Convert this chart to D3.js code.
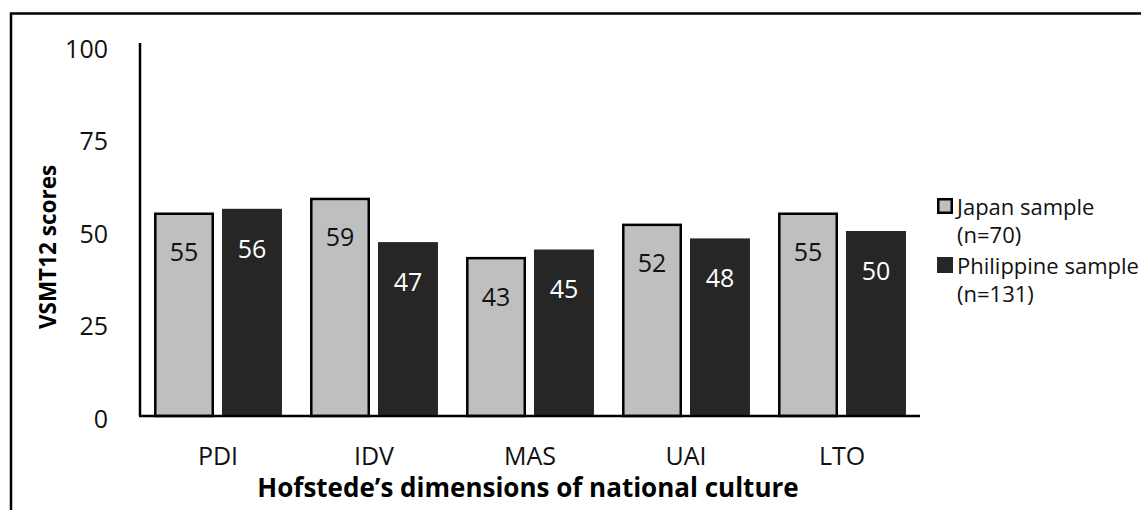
<!DOCTYPE html>
<html>
<head>
<meta charset="utf-8">
<script src="https://cdn.jsdelivr.net/npm/d3@7"></script>
<style>
  html, body { margin: 0; padding: 0; background: #fff; }
  svg { display: block; }
  text { font-family: "Open Sans", "Noto Sans", sans-serif; }
</style>
</head>
<body>
<svg id="chart" width="1141" height="510"></svg>
<script>
// Hofstede dimension scores (VSMT12) for the two samples
const categories = ["PDI", "IDV", "MAS", "UAI", "LTO"];
const seriesNames = ["Japan sample", "Philippine sample"];
const seriesCounts = ["(n=70)", "(n=131)"];
const japanScores = [55, 59, 43, 52, 55];
const philippineScores = [56, 47, 45, 48, 50];
const yTicks = [0, 25, 50, 75, 100];

const seriesValues = [japanScores, philippineScores];
const fills = ["#bfbfbf", "#262626"];
const labelColors = ["#111", "#fff"];

const svg = d3.select("#chart");
const W = 1141, H = 510;

svg.append("rect").attr("width", W).attr("height", H).attr("fill", "#fff");

// outer frame (top and left edges)
svg.append("path")
  .attr("d", "M11,510 V13.5 H1141")
  .attr("fill", "none")
  .attr("stroke", "#000")
  .attr("stroke-width", 2.5);

const x0 = d3.scaleBand().domain(categories).range([140, 920])
  .paddingInner(0.18).paddingOuter(0.09);
const x1 = d3.scaleBand().domain(d3.range(seriesNames.length))
  .range([0, x0.bandwidth()]).paddingInner(8 / 68);
const y = d3.scaleLinear().domain([0, 100]).range([416, 46]);

// bars
const groups = svg.append("g").selectAll("g")
  .data(categories)
  .join("g")
  .attr("transform", d => `translate(${x0(d)},0)`);

groups.selectAll("rect")
  .data((c, i) => seriesValues.map((vals, s) => ({ s, v: vals[i] })))
  .join("rect")
  .attr("x", d => x1(d.s) + (d.s === 0 ? 1.25 : 0))
  .attr("width", d => x1.bandwidth() - (d.s === 0 ? 2.5 : 0))
  .attr("y", d => y(d.v) + (d.s === 0 ? 1.25 : 0))
  .attr("height", d => y(0) - y(d.v) - (d.s === 0 ? 1.25 : 0))
  .attr("fill", d => fills[d.s])
  .attr("stroke", d => d.s === 0 ? "#000" : "none")
  .attr("stroke-width", 2.5);

// value labels inside bar tops
groups.selectAll("text")
  .data((c, i) => seriesValues.map((vals, s) => ({ s, v: vals[i] })))
  .join("text")
  .attr("x", d => x1(d.s) + x1.bandwidth() / 2)
  .attr("y", d => y(d.v) + 40)
  .attr("dy", "0.35em")
  .attr("text-anchor", "middle")
  .attr("font-size", 25)
  .attr("fill", d => labelColors[d.s])
  .text(d => d.v);

// y axis
const yAxis = svg.append("g")
  .attr("transform", "translate(140,0)")
  .call(d3.axisLeft(y).tickValues(yTicks).tickSize(0).tickPadding(32));
yAxis.select(".domain").attr("stroke", "#000").attr("stroke-width", 2.5)
  .attr("d", `M0,${y(0)}V${y(100) - 3}`);
yAxis.selectAll("text").attr("font-size", 25).attr("fill", "#111")
  .attr("font-family", "Open Sans, sans-serif")
  .attr("dy", "0.45em");

// x axis baseline and category labels
const xAxis = svg.append("g")
  .attr("transform", `translate(0,${y(0)})`)
  .call(d3.axisBottom(x0).tickSize(0).tickPadding(31));
xAxis.select(".domain").attr("stroke", "#000").attr("stroke-width", 2.5)
  .attr("d", `M139,0H920`);
xAxis.selectAll("text").attr("font-size", 25).attr("fill", "#111")
  .attr("font-family", "Open Sans, sans-serif");

// axis titles
svg.append("text")
  .attr("x", 528).attr("y", 497)
  .attr("text-anchor", "middle")
  .attr("font-size", 26).attr("font-weight", "bold").attr("fill", "#000")
  .text("Hofstede’s dimensions of national culture");

svg.append("text")
  .attr("transform", "translate(56,247) rotate(-90)")
  .attr("text-anchor", "middle")
  .attr("font-size", 22.5).attr("font-weight", "bold").attr("fill", "#000")
  .text("VSMT12 scores");

// legend
const legend = svg.append("g").attr("transform", "translate(937,198)");
const items = legend.selectAll("g")
  .data(seriesNames.map((n, i) => ({ n, c: seriesCounts[i], i })))
  .join("g")
  .attr("transform", d => `translate(0,${d.i * 59})`);
items.append("rect")
  .attr("x", d => d.i === 0 ? 1.25 : 0)
  .attr("y", d => d.i === 0 ? 1.25 : 0)
  .attr("width", d => d.i === 0 ? 13.5 : 16)
  .attr("height", d => d.i === 0 ? 13.5 : 16)
  .attr("fill", d => fills[d.i])
  .attr("stroke", d => d.i === 0 ? "#000" : "none")
  .attr("stroke-width", 2.5);
const lt = items.append("text")
  .attr("x", 20).attr("y", 17)
  .attr("font-size", 22).attr("fill", "#111");
lt.append("tspan").text(d => d.n);
lt.append("tspan").attr("x", 20).attr("dy", 28).text(d => d.c);
</script>
</body>
</html>
